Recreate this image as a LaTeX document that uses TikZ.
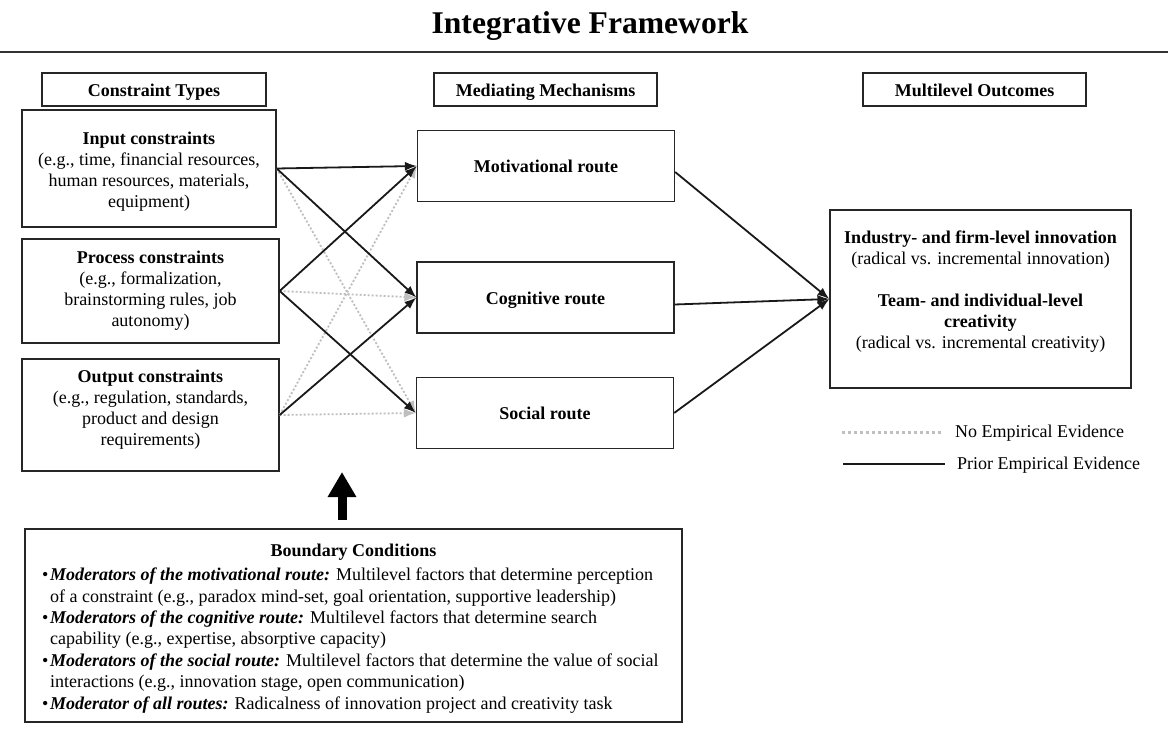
\documentclass[tikz,border=0pt]{standalone}
\usepackage{fontspec}
\setmainfont{Liberation Serif}
\usetikzlibrary{arrows.meta}
\begin{document}
\begin{tikzpicture}[x=1pt,y=-1pt,
  txt/.style={align=center, inner sep=0pt, font=\fontsize{18}{21}\selectfont},
  box/.style={draw=black!85, line width=1.3pt, txt},
  hdr/.style={box, minimum width=223pt, minimum height=33pt, text height=16pt, text depth=1pt, font=\fontsize{18}{21}\selectfont\bfseries},
  leftbox/.style={box, minimum width=256pt},
  midbox/.style={box, minimum width=257pt, minimum height=71pt, text height=13pt, text depth=0pt, font=\fontsize{18}{21}\selectfont\bfseries},
  ev/.style={line width=1.8pt, black!90, -{Latex[length=12pt,width=9pt]}},
  noev/.style={line width=1.8pt, black!25, dash pattern=on 2pt off 2pt, -{Latex[length=12pt,width=9pt]}},
]
\useasboundingbox (0,0) rectangle (1168,733);
\fill[white] (0,0) rectangle (1168,733);

% title and rule
\node[font=\fontsize{31.6}{36}\selectfont\bfseries, anchor=base, inner sep=0pt] (title) at (590,33.3) {Integrative Framework};
\coordinate (rl) at (0,52.5);
\coordinate (rr) at (1168,52.5);
\draw[line width=2pt, black!80] (rl) -- (rr);

% headers
\node[hdr, minimum width=224pt] (h1) at (154,89.5) {Constraint Types};
\node[hdr] (h2) at (545.5,89.5) {Mediating Mechanisms};
\node[hdr] (h3) at (974.5,89.5) {Multilevel Outcomes};

% constraint boxes
\node[leftbox, minimum width=254pt, minimum height=117pt] (inp) at (149,168.5) {};
\node[txt] (inptxt) at (149,171.5)
  {\textbf{Input constraints}\\(e.g., time, financial resources,\\human resources, materials,\\equipment)};
\node[leftbox, minimum width=257pt, minimum height=104pt] (proc) at (150.5,291)
  {\textbf{Process constraints}\\(e.g., formalization,\\brainstorming rules, job\\autonomy)};
\node[leftbox, minimum width=257pt, minimum height=112pt] (outp) at (150.5,415) {};
\node[txt] (outptxt) at (150.5,410)
  {\textbf{Output constraints}\\(e.g., regulation, standards,\\product and design\\requirements)};

% mediating boxes
\node[midbox] (mot) at (546,166) {Motivational route};
\node[midbox] (cog) at (545.5,297.5) {Cognitive route};
\node[midbox] (soc) at (545,413) {Social route};

% outcome box
\node[box, minimum width=301pt, minimum height=178pt] (res) at (980.5,299) {};
\node[txt] (restxt) at (980.5,291.5)
  {\textbf{Industry- and firm-level innovation}\\(radical vs. incremental innovation)\\[20.5pt]
   \textbf{Team- and individual-level}\\\textbf{creativity}\\(radical vs. incremental creativity)};

% no-evidence connectors
\draw[noev] (inp.east) -- (soc.west);
\draw[noev] (proc.east) -- (cog.west);
\draw[noev] (outp.east) -- (mot.west);
\draw[noev] (outp.east) -- (soc.west);

% evidence connectors
\draw[ev] (inp.east) -- (mot.west);
\draw[ev] (inp.east) -- (cog.west);
\draw[ev] (proc.east) -- (mot.west);
\draw[ev] (proc.east) -- (soc.west);
\draw[ev] (outp.east) -- (cog.west);

\draw[ev] ([yshift=-6pt]mot.east) -- (res.west);
\draw[ev] ([yshift=-7pt]cog.east) -- (res.west);
\draw[ev] (soc.east) -- (res.west);

% legend
\coordinate (l1a) at (842,432);
\coordinate (l1b) at (943,432);
\coordinate (l2a) at (843,464);
\coordinate (l2b) at (945,464);
\draw[line width=3pt, black!25, dash pattern=on 3pt off 3pt] (l1a) -- (l1b);
\draw[line width=1.8pt, black!90] (l2a) -- (l2b);
\node[txt, anchor=west] (lt1) at (955,433) {No Empirical Evidence};
\node[txt, anchor=west] (lt2) at (957,465) {Prior Empirical Evidence};

% boundary conditions
\node[box, minimum width=657pt, minimum height=193pt] (bnd) at (353.5,625.5) {};
\coordinate (bigs) at (342,520);
\coordinate (bige) at (342,472);
\draw[line width=9pt, black, -{Triangle[length=25pt,width=27pt]}] (bigs) -- (bige);
\node[font=\fontsize{18}{21}\selectfont\bfseries, anchor=base, inner sep=0pt] (bndtitle) at (353.5,556) {Boundary Conditions};
\node[anchor=west, align=left, inner sep=0pt, font=\fontsize{18}{21.4}\selectfont] (bndtext) at (42,640.5) {%
\makebox[8pt][l]{\textbullet}\textbf{\textit{Moderators of the motivational route:}} Multilevel factors that determine perception\\
\hspace*{8pt}of a constraint (e.g., paradox mind-set, goal orientation, supportive leadership)\\
\makebox[8pt][l]{\textbullet}\textbf{\textit{Moderators of the cognitive route:}} Multilevel factors that determine search\\
\hspace*{8pt}capability (e.g., expertise, absorptive capacity)\\
\makebox[8pt][l]{\textbullet}\textbf{\textit{Moderators of the social route:}} Multilevel factors that determine the value of social\\
\hspace*{8pt}interactions (e.g., innovation stage, open communication)\\
\makebox[8pt][l]{\textbullet}\textbf{\textit{Moderator of all routes:}} Radicalness of innovation project and creativity task};
\end{tikzpicture}
\end{document}
